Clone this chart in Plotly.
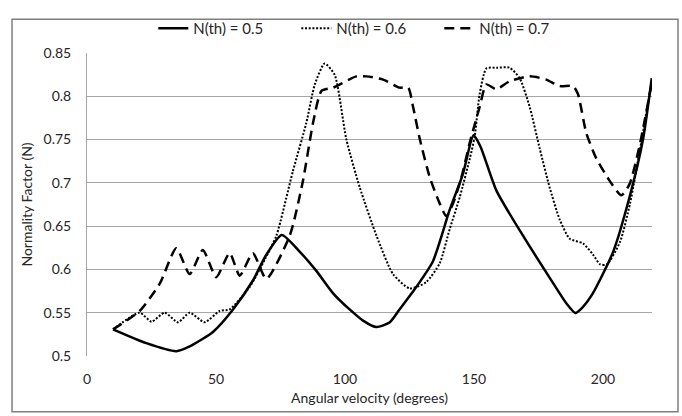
import plotly.graph_objects as go

# N(th) = 0.5
x_05 = [10.1, 23, 34.6, 39.8, 48.8, 56.6, 64.3, 69.5, 75.5, 82.4, 88.9, 95.4, 101.8, 107, 112.2,
        117.4, 121.2, 127.7, 134.1, 140.6, 145.7, 149.8, 152.5, 158.7, 169, 179.3, 186, 189.3,
        192, 196, 203.9, 210.3, 215.5, 218.9]
y_05 = [0.5308, 0.5148, 0.5056, 0.5111, 0.5278, 0.5538, 0.5872, 0.6169, 0.6397, 0.6206, 0.5983,
        0.5724, 0.5538, 0.5409, 0.5334, 0.539, 0.554, 0.580, 0.6095, 0.669, 0.71, 0.755, 0.742,
        0.691, 0.639, 0.5906, 0.560, 0.5497, 0.556, 0.572, 0.620, 0.6836, 0.75, 0.821]

# N(th) = 0.6
x_06 = [10.1, 20.4, 25, 30.1, 35.3, 39.8, 45.6, 51.4, 55.3, 63.1, 69, 73.4, 79.8, 85, 88.3, 92.1,
        96, 100.5, 105.7, 112.2, 118.6, 125.1, 131.5, 136.7, 140.6, 144.5, 148.4, 150.3, 152.2,
        154.8, 158.7, 163.8, 167.7, 171.6, 175.5, 179.3, 183.2, 187.1, 192.3, 196.2, 198.9,
        201.5, 206.6, 210.5, 214.4, 218.3, 218.9]
y_06 = [0.5308, 0.550, 0.5397, 0.550, 0.539, 0.550, 0.539, 0.552, 0.5538, 0.580, 0.612, 0.639,
        0.7135, 0.769, 0.8137, 0.8378, 0.8248, 0.7506, 0.6949, 0.639, 0.5947, 0.578, 0.5854,
        0.607, 0.6467, 0.6837, 0.7283, 0.7542, 0.8026, 0.8322, 0.833, 0.833, 0.821, 0.7876,
        0.7394, 0.6949, 0.6578, 0.6355, 0.630, 0.6169, 0.6058, 0.6058, 0.6317, 0.6763, 0.7394,
        0.806, 0.815]

# N(th) = 0.7
x_07 = [10.1, 20.4, 28.2, 34.6, 39.8, 44.9, 50.1, 55.3, 59.2, 64.3, 69.5, 78.6, 83.7, 87.6, 90.9,
        95.4, 104.4, 108.3, 114.8, 121.2, 124.5, 126.4, 129, 132.9, 136.7, 139.3, 141.9, 145.1,
        148.4, 152.2, 154.8, 158.7, 163.8, 171.6, 178, 183.2, 188.4, 190.3, 193.5, 197.4, 202.6,
        207.1, 210.3, 214.2, 218.8]
y_07 = [0.5308, 0.552, 0.5835, 0.6244, 0.5947, 0.6225, 0.591, 0.6188, 0.5928, 0.6188, 0.5891,
        0.6392, 0.7023, 0.7691, 0.8062, 0.810, 0.823, 0.823, 0.8193, 0.810, 0.810, 0.7876,
        0.7506, 0.706, 0.6763, 0.6615, 0.6763, 0.706, 0.7469, 0.7876, 0.8137, 0.8081, 0.8174,
        0.823, 0.8193, 0.8118, 0.8118, 0.8026, 0.758, 0.7283, 0.7023, 0.6856, 0.6985, 0.7431,
        0.8137]

x_ticks = [0, 50, 100, 150, 200]
x_tick_labels = ["0", "50", "100", "150", "200"]
y_ticks = [0.5, 0.55, 0.6, 0.65, 0.7, 0.75, 0.8, 0.85]
y_tick_labels = ["0.5", "0.55", "0.6", "0.65", "0.7", "0.75", "0.8", "0.85"]

FONT = "Lato"
TXT = "#262626"

fig = go.Figure()
fig.add_trace(go.Scatter(x=x_05, y=y_05, mode="lines", name="N(th) = 0.5",
                         line=dict(color="black", width=2.5, shape="spline", smoothing=0.6)))
fig.add_trace(go.Scatter(x=x_06, y=y_06, mode="lines", name="N(th) = 0.6",
                         line=dict(color="black", width=2, dash="2px,1.7px", shape="spline", smoothing=0.6)))
fig.add_trace(go.Scatter(x=x_07, y=y_07, mode="lines", name="N(th) = 0.7",
                         line=dict(color="black", width=2.5, dash="10px,6px", shape="spline", smoothing=0.6)))

fig.update_layout(
    width=682, height=416,
    margin=dict(l=87, r=30, t=41, b=60),
    paper_bgcolor="white", plot_bgcolor="white",
    font=dict(family=FONT, size=14, color=TXT),
    showlegend=True,
    legend=dict(orientation="h", x=0.497, xanchor="center", y=1.081, yanchor="middle",
                font=dict(family=FONT, size=15, color=TXT), bgcolor="rgba(0,0,0,0)",
                itemwidth=30, entrywidth=98, tracegroupgap=0),
    xaxis=dict(range=[0, 219], tickmode="array", tickvals=x_ticks, ticktext=x_tick_labels,
               showgrid=False, zeroline=False, showline=False, ticks="",
               ticklabelstandoff=13,
               title=dict(text="Angular velocity (degrees)", standoff=7,
                          font=dict(family=FONT, size=14, color=TXT))),
    yaxis=dict(range=[0.5, 0.85], tickmode="array", tickvals=y_ticks, ticktext=y_tick_labels,
               showgrid=True, gridcolor="#a6a6a6", gridwidth=1, zeroline=False,
               showline=True, linecolor="#a6a6a6", linewidth=1, ticks="",
               ticklabelstandoff=12,
               title=dict(text="Normality Factor (N)", standoff=7,
                          font=dict(family=FONT, size=14, color=TXT))),
    shapes=[dict(type="rect", xref="paper", yref="paper",
                 x0=-0.1327, x1=1.046, y0=-0.1844, y1=1.111,
                 line=dict(color="#7f7f7f", width=1.5), fillcolor="rgba(0,0,0,0)", layer="above")],
)

fig.write_html("out.html", config={"displayModeBar": False},
               post_script="document.body.style.margin='0';document.body.style.overflow='hidden';")
